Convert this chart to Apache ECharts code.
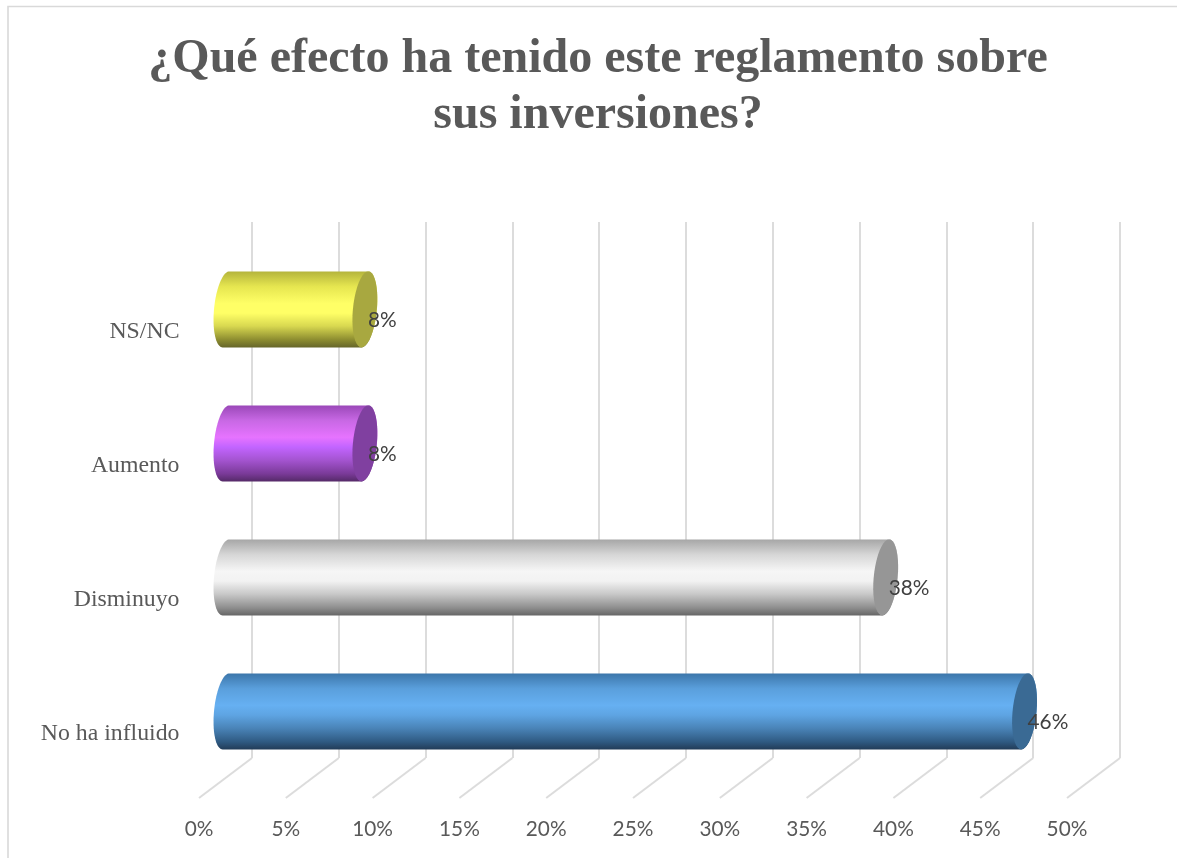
<!DOCTYPE html>
<html>
<head>
<meta charset="utf-8">
<style>html,body{margin:0;padding:0;background:#fff}#c{width:1177px;height:858px}</style>
<script src="https://cdn.jsdelivr.net/npm/echarts@6/dist/echarts.min.js"></script>
</head>
<body>
<div id="c"></div>
<script>
const chartTitle = '¿Qué efecto ha tenido este reglamento sobre\nsus inversiones?';
const categories = ['NS/NC', 'Aumento', 'Disminuyo', 'No ha influido'];
const values = [8, 8, 38, 46];
const axisTicks = [0, 5, 10, 15, 20, 25, 30, 35, 40, 45, 50];

// Shading per cylinder: side gradient stops and the flat end-cap colour
const sideStops = [
  ['#b4b43c', '#e6e650', '#ffff66', '#ffff66', '#d8d850', '#8c8c30', '#66662a'],
  ['#9a48b8', '#c868e4', '#e673ff', '#c264ff', '#a454d0', '#7a3a98', '#552a68'],
  ['#a6a6a6', '#d6d6d6', '#f6f6f6', '#f2f2f2', '#c8c8c8', '#8e8e8e', '#666666'],
  ['#3c76aa', '#5a9fdc', '#66b0f2', '#5ea4e2', '#4a84b8', '#2f5a82', '#223c58']
];
const capColors = ['#a8a840', '#8040a0', '#969696', '#3a6a94'];
const stopOffsets = [0, 0.2, 0.42, 0.55, 0.72, 0.9, 1];

// Oblique projection of the 3D plot: floor depth in pixels
const DEPTH_X = -53, DEPTH_Y = 40;
const BAR_H = 76, CAP_RX = 12, CAP_SKEW = 3.4;

const chart = echarts.init(document.getElementById('c'));

function ellipsePoints(cx, cy, from, to) {
  const pts = [];
  for (let i = 0; i <= 40; i++) {
    const t = from + (to - from) * i / 40;
    pts.push([cx + CAP_RX * Math.cos(t) - CAP_SKEW * Math.sin(t), cy + BAR_H / 2 * Math.sin(t)]);
  }
  return pts;
}

function renderCylinder(params, api) {
  const i = api.value(0);
  const v = api.value(1);
  const start = api.coord([0, i]);
  const end = api.coord([v, i]);
  const dx = DEPTH_X / 2 + 0.5, dy = DEPTH_Y / 2 + 0.4;
  const x0 = start[0] + dx, x1 = end[0] + dx, cy = start[1] + dy;
  // Side wall: top edge, bulging left end, bottom edge, hidden behind the right cap
  const side = ellipsePoints(x0, cy, -Math.PI / 2, -3 * Math.PI / 2)
    .concat(ellipsePoints(x1, cy, Math.PI / 2, -Math.PI / 2));
  const cap = ellipsePoints(x1, cy, 0, 2 * Math.PI);
  const grad = new echarts.graphic.LinearGradient(0, 0, 0, 1,
    sideStops[i].map((c, k) => ({ offset: stopOffsets[k], color: c })));
  return {
    type: 'group',
    children: [
      { type: 'polygon', shape: { points: side }, style: { fill: grad } },
      { type: 'polygon', shape: { points: cap }, style: { fill: capColors[i] } },
      {
        type: 'text', x: x1 + 3, y: cy + 11,
        style: {
          text: v + '%', fill: '#404040', font: '20.8px Lato',
          align: 'left', verticalAlign: 'middle'
        }
      }
    ]
  };
}

function renderFloorLine(params, api) {
  const p = api.coord([api.value(0), 0]);
  const bottom = params.coordSys.y + params.coordSys.height;
  return {
    type: 'line',
    shape: { x1: p[0], y1: bottom, x2: p[0] + DEPTH_X, y2: bottom + DEPTH_Y },
    style: { stroke: '#dcdcdc', lineWidth: 2 }
  };
}

chart.setOption({
  animation: false,
  backgroundColor: '#ffffff',
  title: {
    text: chartTitle,
    left: 598, top: 32, textAlign: 'center', padding: 0,
    textStyle: {
      fontFamily: 'Liberation Serif', fontWeight: 'bold', fontSize: 48,
      lineHeight: 56, color: '#595959'
    }
  },
  grid: { left: 252, top: 222, width: 868, height: 536 },
  xAxis: {
    type: 'value', min: 0, max: 50, interval: 5,
    axisLine: { show: false }, axisTick: { show: false },
    splitLine: { show: true, lineStyle: { color: '#dcdcdc', width: 2 } },
    axisLabel: {
      margin: 61, padding: [0, 106, 0, 0],
      formatter: '{value}%', color: '#595959',
      fontFamily: 'Lato', fontSize: 20.8
    }
  },
  yAxis: {
    type: 'category', data: categories, inverse: true,
    axisLine: { show: false }, axisTick: { show: false }, splitLine: { show: false },
    axisLabel: {
      margin: 72.5, verticalAlign: 'top', lineHeight: 85,
      color: '#595959', fontFamily: 'Liberation Serif', fontSize: 23.8
    }
  },
  series: [
    {
      type: 'custom', silent: true, clip: false, z: 1,
      data: axisTicks.map(t => [t]),
      encode: { x: 0 },
      renderItem: renderFloorLine
    },
    {
      type: 'custom', silent: true, clip: false, z: 3,
      data: values.map((v, i) => [i, v]),
      encode: { y: 0, x: 1 },
      renderItem: renderCylinder
    }
  ],
  graphic: [{
    type: 'polyline', silent: true,
    shape: { points: [[8, 858], [8, 6.5], [1177, 6.5]] },
    style: { stroke: '#d9d9d9', lineWidth: 1.6, fill: null }
  }]
});
</script>
</body>
</html>
